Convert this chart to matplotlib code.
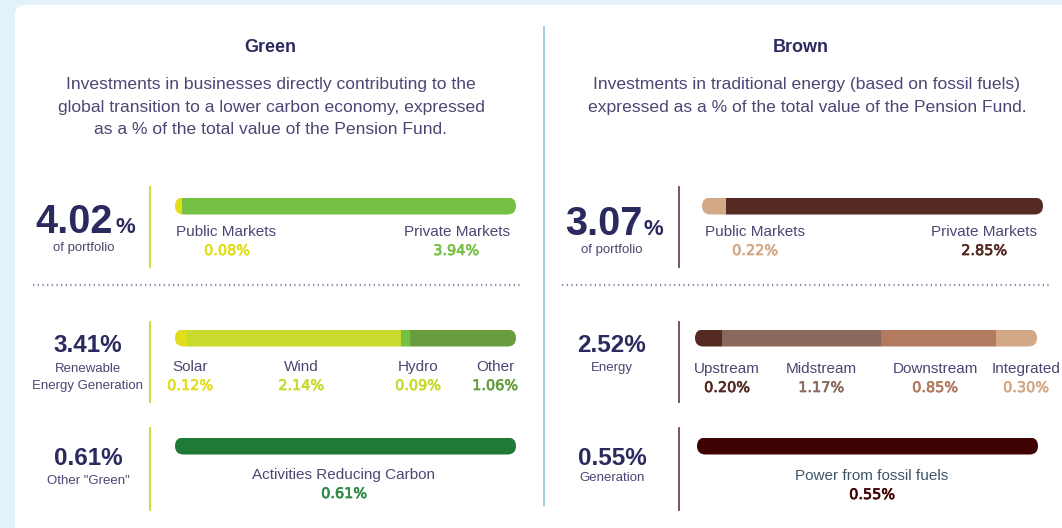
import matplotlib.pyplot as plt
from matplotlib.patches import FancyBboxPatch
import matplotlib.patheffects as pe
import numpy as np

# Datos
green_top_labels = ["Public Markets", "Private Markets"]
green_top_values = [0.08, 3.94]
renew_labels = ["Solar", "Wind", "Hydro", "Other"]
renew_values = [0.12, 2.14, 0.09, 1.06]
other_labels = ["Activities Reducing Carbon"]
other_values = [0.61]

brown_top_labels = ["Public Markets", "Private Markets"]
brown_top_values = [0.22, 2.85]
energy_labels = ["Upstream", "Midstream", "Downstream", "Integrated"]
energy_values = [0.20, 1.17, 0.85, 0.30]
gen_labels = ["Power from fossil fuels"]
gen_values = [0.55]

totals = {"green": 4.02, "renew": 3.41, "other": 0.61,
          "brown": 3.07, "energy": 2.52, "gen": 0.55}

# Colores
NAVY = "#2b2a5e"
TXT = "#4a4774"
YEL = "#e0dd1b"
GRN = "#76c043"
LIME = "#c8da2b"
OGRN = "#679d3f"
DGRN = "#1e7a35"
TAN = "#d3a886"
DBRN = "#542a22"
MBRN = "#8a685e"
LBRN = "#b27a5e"
FOSS = "#3f0202"

W, H = 1062, 528
fig = plt.figure(figsize=(W / 100, H / 100), dpi=100)
fig.patch.set_facecolor("#e3f1f8")
ax = fig.add_axes([0, 0, 1, 1])
ax.set_xlim(0, W)
ax.set_ylim(H, 0)
ax.axis("off")

# Tarjeta blanca
ax.add_patch(FancyBboxPatch((15, 5), 1200, 700,
                            boxstyle="round,pad=0,rounding_size=10",
                            facecolor="white", edgecolor="none"))
ax.plot([544, 544], [27, 505], color="#9fd0e8", lw=1.5)

SANS = "Liberation Sans"
NUM = "DejaVu Sans"


def draw_bar(x0, x1, yc, h, values, colors):
    total = sum(values)
    bax = fig.add_axes([x0 / W, 1 - (yc + h / 2) / H, (x1 - x0) / W, h / H])
    bax.set_xlim(0, total)
    bax.set_ylim(-0.5, 0.5)
    bax.axis("off")
    clip = FancyBboxPatch((x0, yc - h / 2), x1 - x0, h,
                          boxstyle="round,pad=0,rounding_size=%f" % (h / 2),
                          facecolor="none", edgecolor="none",
                          transform=ax.transData)
    ax.add_patch(clip)
    lefts = np.concatenate([[0], np.cumsum(values)[:-1]])
    bars = bax.barh(0, values, left=lefts, height=1, color=colors,
                    linewidth=0)
    for b in bars:
        b.set_clip_path(clip)


def value_text(x, y, value, color):
    ax.text(x, y, "%.2f%%" % value, ha="center", va="center",
            fontsize=10.4, color=color, family=NUM,
            path_effects=[pe.withStroke(linewidth=0.5, foreground=color)])


def big_number(xc, yb, value, size, sub=None, sub_y=None):
    ax.text(xc, yb, "%.2f%%" % value, ha="center", va="baseline",
            fontsize=size, fontweight="bold", color=NAVY, family=SANS)
    if sub:
        for i, s in enumerate(sub):
            ax.text(xc, sub_y[i], s, ha="center", va="center",
                    fontsize=9.5, color=TXT, family=SANS)


def label_pair(xc, y, label, value, color, ha="center", xl=None):
    ax.text(xl if xl is not None else xc, y, label, ha=ha, va="center",
            fontsize=11, color=TXT, family=SANS)
    value_text(xc, y + 19, value, color)


# Titulos
ax.text(270, 47, "Green", ha="center", va="center", fontsize=13,
        fontweight="bold", color=NAVY, family=SANS)
ax.text(801, 47, "Brown", ha="center", va="center", fontsize=13,
        fontweight="bold", color=NAVY, family=SANS)
green_desc = ["Investments in businesses directly contributing to the",
              "global transition to a lower carbon economy, expressed",
              "as a % of the total value of the Pension Fund."]
brown_desc = ["Investments in traditional energy (based on fossil fuels)",
              "expressed as a % of the total value of the Pension Fund."]
for i, s in enumerate(green_desc):
    ax.text(271, 85 + 22.5 * i, s, ha="center", va="center", fontsize=12.6,
            color=TXT, family=SANS)
for i, s in enumerate(brown_desc):
    ax.text(807, 85 + 22.5 * i, s, ha="center", va="center", fontsize=12.6,
            color=TXT, family=SANS)

# Numeros grandes fila 1
ax.text(113, 233, "%.2f" % totals["green"], ha="right", va="baseline",
        fontsize=28.5, fontweight="bold", color=NAVY, family=SANS)
ax.text(115, 233, "%", ha="left", va="baseline", fontsize=16,
        fontweight="bold", color=NAVY, family=SANS)
ax.text(84, 248, "of portfolio", ha="center", va="center", fontsize=9.5,
        color=TXT, family=SANS)
ax.text(642, 235, "%.2f" % totals["brown"], ha="right", va="baseline",
        fontsize=28.5, fontweight="bold", color=NAVY, family=SANS)
ax.text(644, 235, "%", ha="left", va="baseline", fontsize=16,
        fontweight="bold", color=NAVY, family=SANS)
ax.text(612, 250, "of portfolio", ha="center", va="center", fontsize=9.5,
        color=TXT, family=SANS)

big_number(88, 352, totals["renew"], 17.5, ["Renewable", "Energy Generation"],
           [369, 386])
big_number(88, 465, totals["other"], 17.5, ['Other "Green"'], [481])
big_number(612, 352, totals["energy"], 17.5, ["Energy"], [368])
big_number(612, 465, totals["gen"], 17.5, ["Generation"], [478])

# Lineas verticales
for yr in [(187, 267), (322, 402), (428, 510)]:
    ax.plot([150, 150], yr, color=LIME, lw=1.3)
    ax.plot([679, 679], yr, color="#6e4a45", lw=1.3)

# Lineas punteadas
ax.plot([33, 520], [285, 285], color="#8f8cb0", lw=1.6, ls=(0, (0.6, 1.5)))
ax.plot([562, 1050], [285, 285], color="#8f8cb0", lw=1.6, ls=(0, (0.6, 1.5)))

# Barras
draw_bar(175, 516, 206, 17, green_top_values, [YEL, GRN])
draw_bar(175, 516, 338, 17, renew_values, [YEL, LIME, GRN, OGRN])
draw_bar(175, 516, 446, 17, other_values, [DGRN])
draw_bar(702, 1043, 206, 17, brown_top_values, [TAN, DBRN])
draw_bar(695, 1037, 338, 17, energy_values, [DBRN, MBRN, LBRN, TAN])
draw_bar(697, 1038, 446, 17, gen_values, [FOSS])

# Etiquetas
label_pair(227, 232, green_top_labels[0], green_top_values[0], YEL,
           ha="left", xl=176)
label_pair(456, 232, green_top_labels[1], green_top_values[1], GRN,
           ha="right", xl=510)
for xc, lab, val, col in zip([190, 301, 418, 495], renew_labels,
                             renew_values, [YEL, LIME, LIME, OGRN]):
    label_pair(xc, 367, lab, val, col)
label_pair(344, 475, other_labels[0], other_values[0], "#2e8a45")

label_pair(755, 232, brown_top_labels[0], brown_top_values[0], TAN,
           ha="left", xl=705)
label_pair(984, 232, brown_top_labels[1], brown_top_values[1], DBRN,
           ha="right", xl=1037)
for xc, lab, val, col in zip([727, 821, 935, 1026], energy_labels,
                             energy_values, [DBRN, MBRN, LBRN, TAN]):
    label_pair(xc, 369, lab, val, col)
ax.text(872, 476, gen_labels[0], ha="center", va="center", fontsize=11,
        color="#3e5566", family=SANS)
value_text(872, 495, gen_values[0], FOSS)

fig.savefig("out.png", dpi=100, facecolor=fig.get_facecolor())
